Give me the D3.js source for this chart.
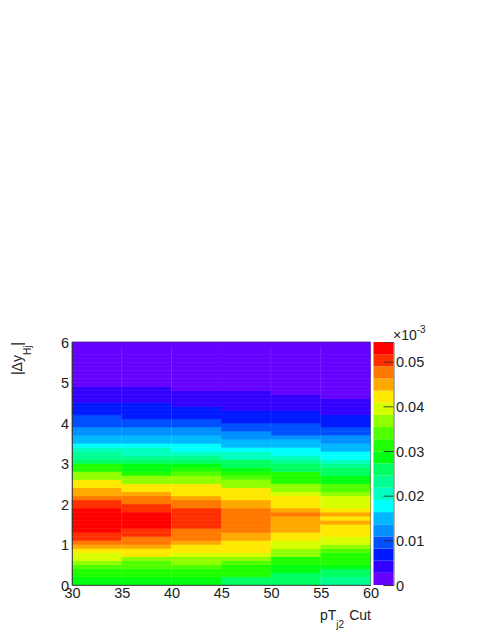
<!DOCTYPE html>
<html><head><meta charset="utf-8">
<script src="https://cdnjs.cloudflare.com/ajax/libs/d3/7.8.5/d3.min.js"></script>
<style>html,body{margin:0;padding:0;background:#fff}svg{display:block}text{font-family:"Liberation Sans",Arial,sans-serif;fill:#222}</style>
</head><body><svg id="c" width="491" height="635"></svg>
<script>
// Values x 1e-3, one array per pT cut column, from |dy|=0 (first) upward in steps of 0.1
const col30 = [28.6,28.6,31.3,31.3,34,36.7,39.4,39.4,42.2,44.9,47.6,50.3,50.3,53,53,53,53,53,53,50.3,50.3,47.6,44.9,44.9,42.2,42.2,36.7,36.7,31.3,31.3,25.8,23.1,23.1,20.4,17.7,15,15,12.2,12.2,9.5,9.5,9.5,6.8,6.8,6.8,4.1,4.1,4.1,4.1,1.4,1.4,1.4,1.4,1.4,1.4,1.4,1.4,1.4,1.4,1.4];
const col35 = [28.6,28.6,31.3,31.3,34,34,36.7,42.2,42.2,44.9,47.6,47.6,50.3,50.3,53,53,53,53,50.3,50.3,47.6,47.6,44.9,42.2,42.2,36.7,36.7,31.3,28.6,28.6,25.8,23.1,20.4,20.4,17.7,15,15,12.2,12.2,9.5,9.5,6.8,6.8,6.8,6.8,4.1,4.1,4.1,4.1,1.4,1.4,1.4,1.4,1.4,1.4,1.4,1.4,1.4,1.4,1.4];
const col40 = [28.6,28.6,31.3,31.3,34,36.7,36.7,39.4,42.2,42.2,44.9,47.6,47.6,47.6,50.3,50.3,50.3,50.3,50.3,47.6,47.6,44.9,42.2,42.2,42.2,36.7,36.7,34,31.3,28.6,25.8,23.1,20.4,17.7,17.7,15,15,12.2,12.2,9.5,9.5,6.8,6.8,6.8,4.1,4.1,4.1,4.1,1.4,1.4,1.4,1.4,1.4,1.4,1.4,1.4,1.4,1.4,1.4,1.4];
const col45 = [25.8,25.8,31.3,31.3,31.3,34,36.7,39.4,42.2,42.2,42.2,44.9,44.9,47.6,47.6,47.6,47.6,47.6,47.6,44.9,44.9,42.2,42.2,42.2,36.7,36.7,34,31.3,28.6,25.8,25.8,20.4,20.4,17.7,15,15,12.2,12.2,9.5,9.5,6.8,6.8,6.8,4.1,4.1,4.1,4.1,4.1,1.4,1.4,1.4,1.4,1.4,1.4,1.4,1.4,1.4,1.4,1.4,1.4];
const col50 = [25.8,25.8,25.8,28.6,28.6,31.3,31.3,36.7,36.7,39.4,39.4,42.2,42.2,44.9,44.9,44.9,44.9,47.6,44.9,42.2,42.2,42.2,39.4,36.7,36.7,31.3,31.3,31.3,25.8,25.8,23.1,20.4,17.7,17.7,15,15,12.2,9.5,9.5,9.5,6.8,6.8,6.8,4.1,4.1,4.1,4.1,1.4,1.4,1.4,1.4,1.4,1.4,1.4,1.4,1.4,1.4,1.4,1.4,1.4];
const col55 = [23.1,23.1,25.8,25.8,28.6,31.3,31.3,31.3,34,36.7,39.4,39.4,42.2,42.2,42.2,44.9,42.2,44.9,42.2,39.4,39.4,39.4,36.7,34,34,28.6,28.6,25.8,25.8,23.1,20.4,17.7,17.7,15,15,12.2,12.2,9.5,9.5,6.8,6.8,6.8,4.1,4.1,4.1,4.1,1.4,1.4,1.4,1.4,1.4,1.4,1.4,1.4,1.4,1.4,1.4,1.4,1.4,1.4];
const columns = [col30,col35,col40,col45,col50,col55];
const xEdges = [30,35,40,45,50,55,60];
const xTicks = [30,35,40,45,50,55,60];
const seamEdges = [35,40,50,55];
const yTicks = [0,1,2,3,4,5,6];
const zTicks = [0,10,20,30,40,50];
const zTickLabels = ["0","0.01","0.02","0.03","0.04","0.05"];
const zMax = 54.4;
const palette = ["#6600ff","#3300ff","#0019ff","#0050ff","#0090ff","#00b8ff","#00ffff","#00ffc0","#00ff90","#00ff60","#00ff10","#20ff00","#50ff00","#90ff00","#d8ff00","#ffe800","#ffa800","#ff7800","#ff3000","#ff0000"];
const binH = 0.1;

const svg = d3.select("#c");
const x = d3.scaleLinear().domain([30,60]).range([72,370.5]);
const y = d3.scaleLinear().domain([0,6]).range([585,342]);
const z = d3.scaleLinear().domain([0,zMax]).range([585,342]);
const color = d3.scaleQuantize().domain([0,zMax]).range(palette);

columns.forEach((vals,i)=>{
  svg.append("g").selectAll("rect").data(vals).join("rect")
    .attr("x",x(xEdges[i])).attr("width",x(xEdges[i+1])-x(xEdges[i]))
    .attr("y",(d,r)=>y((r+1)*binH)).attr("height",y(0)-y(binH))
    .attr("fill",d=>color(d)).attr("stroke",d=>color(d)).attr("stroke-width",0.5);
});

// faint seams between columns
svg.append("g").selectAll("line").data(seamEdges).join("line")
  .attr("x1",d=>x(d)).attr("x2",d=>x(d)).attr("y1",y(5.85)).attr("y2",y(0))
  .attr("stroke","#fff").attr("stroke-opacity",0.12).attr("stroke-width",0.8);

// frame + axes
svg.append("rect").attr("x",72).attr("y",342).attr("width",298.5).attr("height",243).attr("fill","none").attr("stroke","#444").attr("stroke-opacity",0.6).attr("stroke-width",0.7);
const fs = 14.5;
const gx = svg.append("g").attr("transform","translate(0,585)")
  .call(d3.axisBottom(x).tickValues(xTicks).tickSize(0).tickPadding(3));
const gy = svg.append("g").attr("transform","translate(72,0)")
  .call(d3.axisLeft(y).tickValues(yTicks).tickFormat(d3.format("d")).tickSize(0).tickPadding(3));
[gx,gy].forEach(g=>{g.select(".domain").attr("stroke","#333").attr("stroke-width",0.8);g.selectAll("text").attr("font-size",fs).attr("font-family","Liberation Sans");});
gy.selectAll("text").attr("dy","0.36em");

// colour bar
const cx0=373.5, cx1=393.5;
svg.append("g").selectAll("rect").data(palette).join("rect")
  .attr("x",cx0).attr("width",cx1-cx0)
  .attr("y",(d,i)=>z((i+1)*zMax/palette.length)).attr("height",(z(0)-z(zMax))/palette.length)
  .attr("fill",d=>d);
const gz = svg.append("g").attr("transform",`translate(${cx1},0)`)
  .call(d3.axisRight(z).tickValues(zTicks).tickFormat((d,i)=>zTickLabels[i]).tickSize(-10).tickPadding(2.5));
gz.select(".domain").attr("stroke","#444").attr("stroke-width",0.8);
gz.selectAll("line").attr("stroke","#222").attr("stroke-width",0.8);
gz.selectAll("text").attr("font-size",fs).attr("font-family","Liberation Sans").attr("dy","0.36em");

// exponent
const ex = svg.append("text").attr("x",393).attr("y",340).attr("font-size",14);
ex.append("tspan").text("×10");
ex.append("tspan").attr("font-size",10).attr("dy",-7).text("-3");

// axis titles
const xt = svg.append("text").attr("x",320).attr("y",620).attr("font-size",14);
xt.append("tspan").text("pT");
xt.append("tspan").attr("font-size",10).attr("dy",8).text("j2");
xt.append("tspan").attr("dx",5).attr("dy",-8).text("Cut");
const yt = svg.append("text").attr("transform","translate(22,342) rotate(-90)").attr("text-anchor","end").attr("font-size",14);
yt.append("tspan").text("|Δy");
yt.append("tspan").attr("font-size",10).attr("dy",9).text("Hj");
yt.append("tspan").attr("dy",-9).text("|");
</script></body></html>
